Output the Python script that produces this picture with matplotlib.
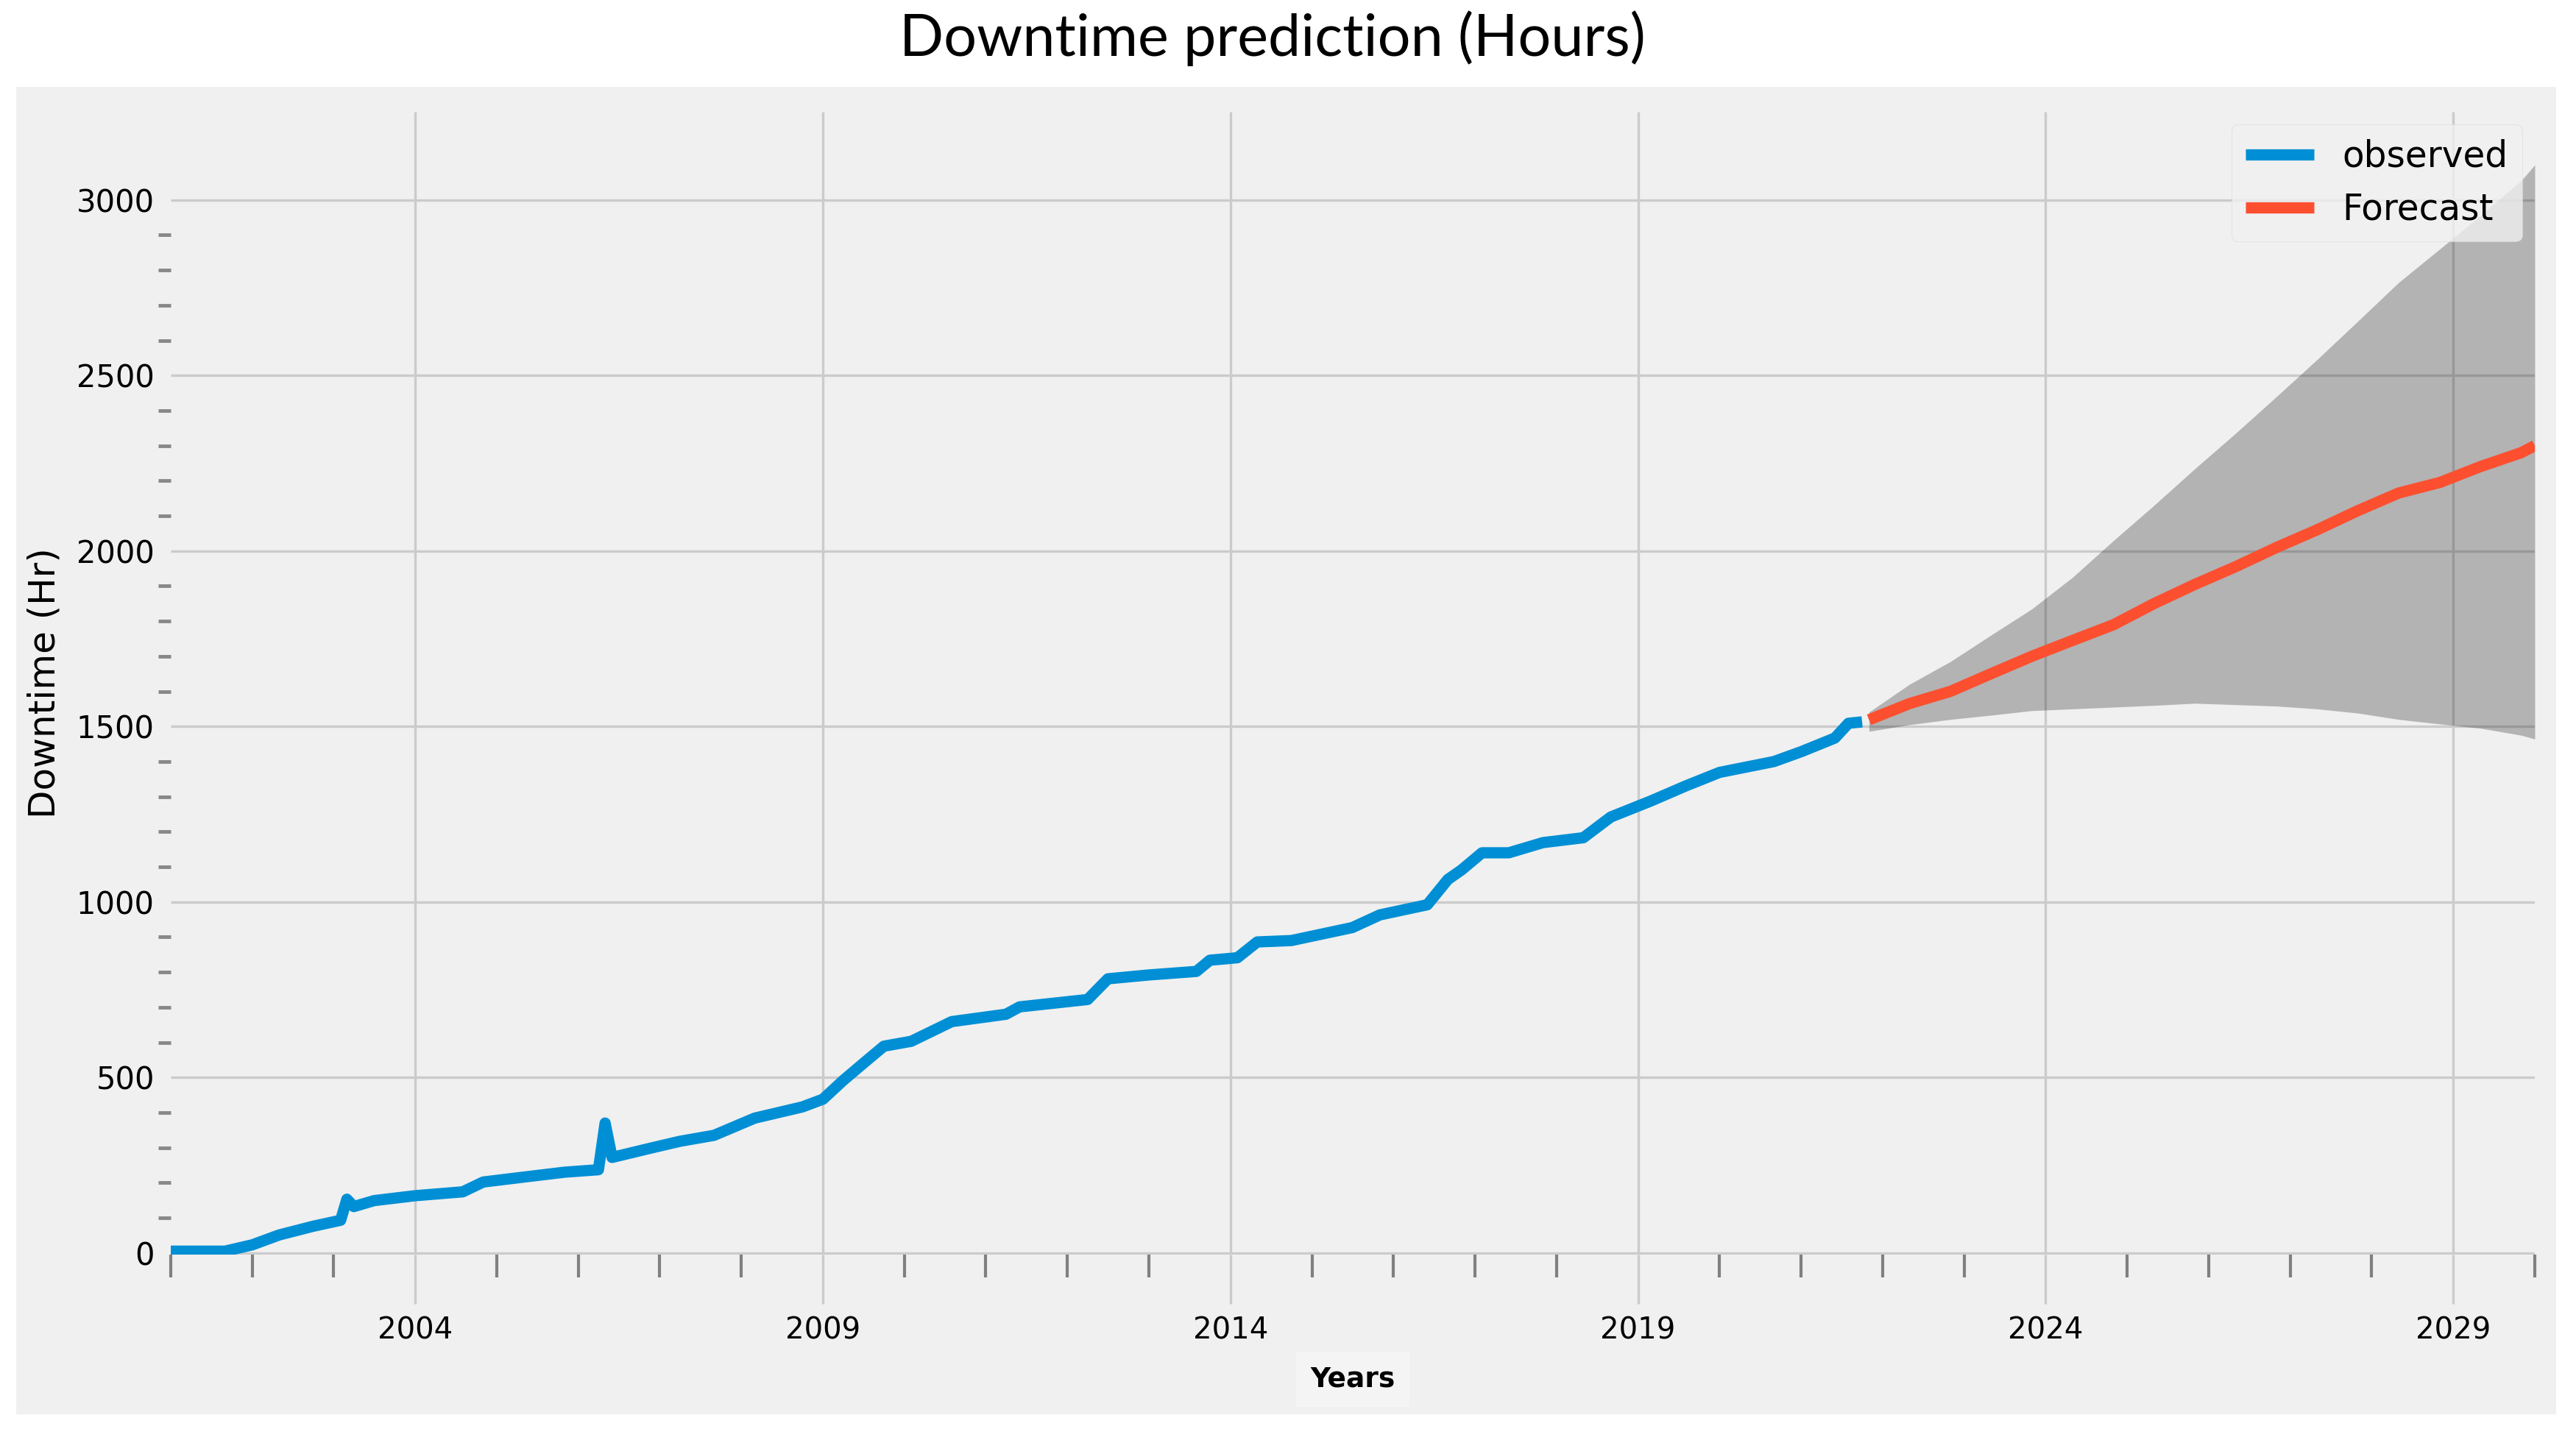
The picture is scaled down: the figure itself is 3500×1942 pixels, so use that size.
import numpy as np
import pandas as pd
import matplotlib
matplotlib.use("Agg")
import matplotlib.pyplot as plt
import matplotlib.dates as mdates
from matplotlib.patches import Rectangle
from matplotlib.ticker import MultipleLocator, FixedLocator

plt.style.use("fivethirtyeight")

# observed downtime (hours)
obs_dates = ["2001-01", "2001-06", "2001-09", "2002-01", "2002-05", "2002-10",
             "2003-02", "2003-03", "2003-04", "2003-07", "2004-01", "2004-08",
             "2004-11", "2005-05", "2005-11", "2006-04", "2006-05", "2006-06",
             "2006-12", "2007-04", "2007-09", "2008-03", "2008-10", "2009-01",
             "2009-04", "2009-07", "2009-10", "2010-02", "2010-08", "2011-04",
             "2011-06", "2012-04", "2012-07", "2013-01", "2013-08", "2013-10",
             "2014-02", "2014-05", "2014-10", "2015-07", "2015-11", "2016-06",
             "2016-09", "2016-11", "2017-02", "2017-06", "2017-11", "2018-05",
             "2018-09", "2019-03", "2019-08", "2020-01", "2020-09", "2021-01",
             "2021-06", "2021-08", "2021-10"]
obs_values = [5, 5, 5, 23, 51, 76,
              93, 153, 132, 149, 163, 174,
              202, 216, 230, 237, 370, 272,
              300, 318, 335, 384, 416, 438,
              491, 540, 589, 603, 659, 680,
              701, 722, 781, 792, 802, 834,
              841, 886, 890, 927, 963, 992,
              1064, 1091, 1140, 1140, 1169, 1183,
              1242, 1288, 1330, 1369, 1400, 1428,
              1467, 1509, 1513]

# forecast with confidence interval
fc_dates = ["2021-11", "2022-05", "2022-11", "2023-05", "2023-11", "2024-05",
            "2024-11", "2025-05", "2025-11", "2026-05", "2026-11", "2027-05",
            "2027-11", "2028-05", "2028-11", "2029-05", "2029-11", "2030-01"]
fc_mean = [1519, 1565, 1600, 1650, 1700, 1745,
           1790, 1850, 1905, 1955, 2010, 2060,
           2115, 2165, 2195, 2240, 2280, 2300]
fc_upper = [1541, 1620, 1685, 1760, 1835, 1925,
            2030, 2130, 2235, 2335, 2440, 2545,
            2655, 2765, 2860, 2955, 3055, 3100]
fc_lower = [1486, 1505, 1520, 1532, 1545, 1550,
            1555, 1560, 1566, 1562, 1558, 1550,
            1538, 1520, 1507, 1495, 1475, 1464]

major_years = [2004, 2009, 2014, 2019, 2024, 2029]
minor_years = list(range(2001, 2031))
y_minor = [v for v in range(100, 3000, 100) if v % 500]

obs_x = pd.to_datetime(obs_dates)
fc_x = pd.to_datetime(fc_dates)

fig = plt.figure(figsize=(35, 19.42), dpi=100, facecolor="white")
fig.patches.append(Rectangle((0.0063, 0.0103), 0.986, 0.929, transform=fig.transFigure,
                             facecolor="#f0f0f0", edgecolor="none", zorder=-10))
ax = fig.add_axes([0.0663, 0.122, 0.9177, 0.7997])
ax.set_facecolor("#f0f0f0")

ax.plot(obs_x, obs_values, color="#008fd5", lw=11, label="observed")
ax.plot(fc_x, fc_mean, color="#fc4f30", lw=11, label="Forecast")
ax.fill_between(fc_x, fc_lower, fc_upper, color="k", alpha=0.25, lw=0)

ax.set_xlim(obs_x[0], fc_x[-1])
ax.set_ylim(-5, 3251)

ax.set_xticks([pd.Timestamp(f"{y}-01-01") for y in major_years])
ax.set_xticks([pd.Timestamp(f"{y}-01-01") for y in minor_years], minor=True)
ax.xaxis.set_major_formatter(mdates.DateFormatter("%Y"))
ax.yaxis.set_major_locator(MultipleLocator(500))
ax.yaxis.set_minor_locator(FixedLocator(y_minor))

ax.grid(True, which="major", color="#cbcbcb", lw=2.4)
ax.grid(False, which="minor")
ax.tick_params(axis="x", which="major", length=48, width=2.4, color="#cbcbcb",
               pad=12, labelsize=29)
ax.tick_params(axis="x", which="minor", length=22, width=3, color="#808080")
ax.tick_params(axis="y", which="major", length=0, pad=16, labelsize=30)
ax.tick_params(axis="y", which="minor", length=12, width=3.5, color="#888888")
for s in ax.spines.values():
    s.set_visible(False)

ax.set_ylabel("Downtime (Hr)", fontsize=36, labelpad=14)
ax.set_xlabel("Years", fontsize=27, fontweight="bold", labelpad=20,
              bbox=dict(facecolor="#f4f4f4", edgecolor="none", pad=14))

fig.suptitle("Downtime prediction (Hours)", x=0.494, y=0.973, va="center",
             fontsize=57, family="Lato")

ax.legend(loc="upper right", fontsize=35, facecolor="#f0f0f0", edgecolor="#d8d8d8",
          framealpha=0.8, handlelength=1.9, borderaxespad=0.35)

fig.savefig("out.png", dpi=100, facecolor="white")
